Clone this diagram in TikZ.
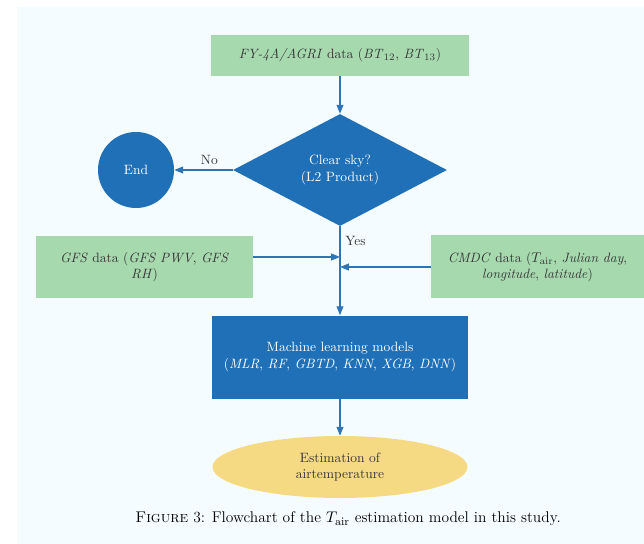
\documentclass[tikz,border=0pt]{standalone}
\usetikzlibrary{shapes.geometric,arrows.meta}

\definecolor{pagetint}{RGB}{245,252,255}
\definecolor{boxgreen}{RGB}{166,217,174}
\definecolor{boxblue}{RGB}{31,112,183}
\definecolor{ovalyellow}{RGB}{245,218,131}
\definecolor{linkblue}{RGB}{46,117,182}
\definecolor{inktext}{RGB}{55,55,55}

\begin{document}
\begin{tikzpicture}[x=0.025cm, y=-0.025cm,
    every node/.style={font=\fontsize{9.6}{11.5}\selectfont},
    databox/.style={rectangle, fill=boxgreen, text=inktext, align=center, inner sep=0pt},
    procbox/.style={rectangle, fill=boxblue, text=white, align=center, inner sep=0pt},
    link/.style={draw=linkblue, line width=0.8pt, -{Triangle[length=2.2mm,width=1.7mm]}}]
    % page and tinted area
    \useasboundingbox (0,0) rectangle (644,544);
    \fill[white] (0,0) rectangle (644,544);
    \fill[pagetint] (17,7) rectangle (644,544);

    % nodes
    \node[databox, minimum width=258*0.025cm, minimum height=41*0.025cm] (fy) at (340,55.5)
        {\textit{FY-4A/AGRI} data (\textit{BT}$_{12}$, \textit{BT}$_{13}$)};
    \node[diamond, fill=boxblue, text=white, align=center, inner sep=0pt,
          minimum width=214*0.025cm, minimum height=112*0.025cm] (sky) at (340,170)
        {Clear sky?\\(L2 Product)};
    \node[circle, fill=boxblue, text=white, minimum size=76*0.025cm, inner sep=0pt] (end) at (136,170) {End};
    \node[databox, minimum width=217*0.025cm, minimum height=62*0.025cm] (gfs) at (144.5,267)
        {\textit{GFS} data (\textit{GFS PWV}, \textit{GFS}\\\textit{RH})};
    \node[databox, minimum width=213*0.025cm, minimum height=63*0.025cm] (cmdc) at (537.5,267)
        {\textit{CMDC} data ($T_{\mathrm{air}}$, \textit{Julian day},\\\textit{longitude}, \textit{latitude})};
    \node[procbox, minimum width=256*0.025cm, minimum height=83*0.025cm] (ml) at (340,357)
        {Machine learning models\\(\textit{MLR}, \textit{RF}, \textit{GBTD}, \textit{KNN}, \textit{XGB}, \textit{DNN})};
    \node[ellipse, fill=ovalyellow, text=inktext, align=center, inner sep=0pt,
          minimum width=255*0.025cm, minimum height=62*0.025cm] (est) at (340,467)
        {Estimation of\\airtemperature};
    \node[font=\fontsize{11}{13}\selectfont] (cap) at (348,519)
        {\textsc{Figure} 3: Flowchart of the $T_{\mathrm{air}}$ estimation model in this study.};

    % joins on the main line
    \coordinate (jg) at (340,257);
    \coordinate (jc) at (cmdc.west -| sky.south);

    % connectors
    \draw[link] (fy.south) -- (sky.north);
    \draw[link] (sky.west) -- node[above, pos=0.4, text=inktext] (no) {No} (end.east);
    \draw[link] (sky.south) -- node[right, pos=0.17, text=inktext] (yes) {Yes} (ml.north);
    \draw[link] (gfs.east |- jg) -- (jg);
    \draw[link] (cmdc.west) -- (jc);
    \draw[link] (ml.south) -- (est.north);
\end{tikzpicture}
\end{document}
